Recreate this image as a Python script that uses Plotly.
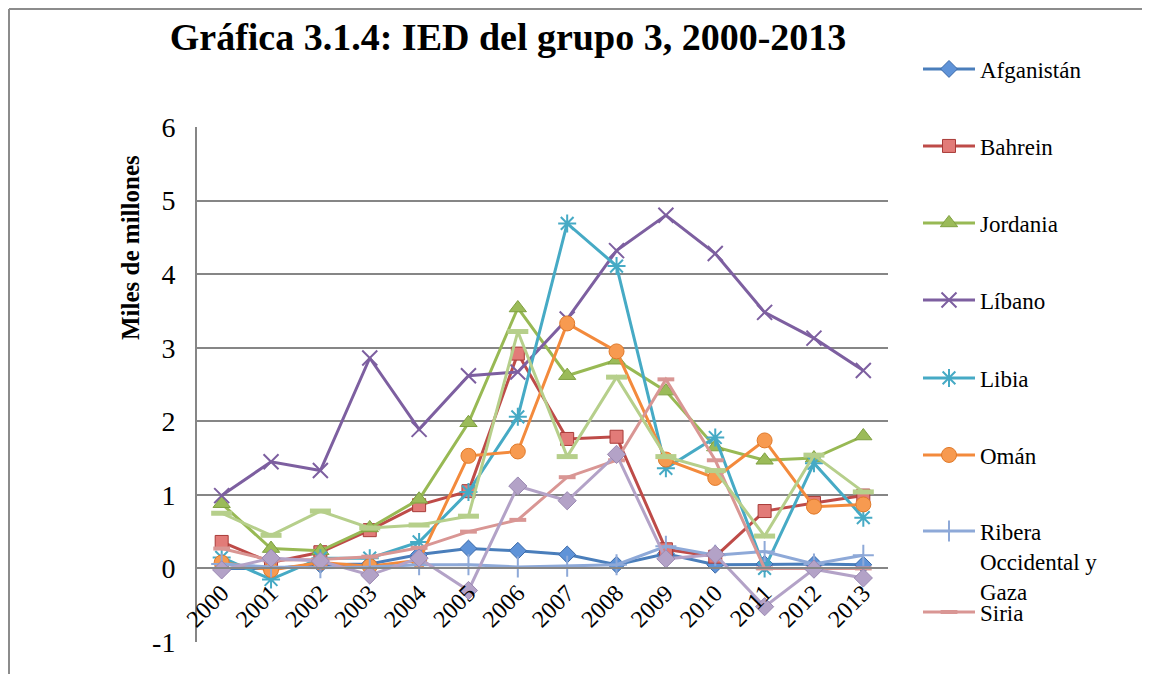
import plotly.graph_objects as go

years = ["2000", "2001", "2002", "2003", "2004", "2005", "2006",
         "2007", "2008", "2009", "2010", "2011", "2012", "2013"]

y_ticks = [-1, 0, 1, 2, 3, 4, 5, 6]
y_tick_labels = ["-1", "0", "1", "2", "3", "4", "5", "6"]

afganistan = [0.00, 0.00, 0.05, 0.06, 0.19, 0.27, 0.24, 0.19, 0.05, 0.20, 0.05, 0.06, 0.06, 0.05]
bahrein    = [0.36, 0.08, 0.22, 0.52, 0.86, 1.05, 2.92, 1.76, 1.79, 0.26, 0.16, 0.78, 0.89, 0.99]
jordania   = [0.88, 0.27, 0.24, 0.55, 0.94, 1.98, 3.54, 2.62, 2.83, 2.41, 1.65, 1.47, 1.50, 1.80]
libano     = [0.99, 1.45, 1.33, 2.86, 1.89, 2.62, 2.67, 3.39, 4.32, 4.80, 4.28, 3.48, 3.13, 2.69]
libia      = [0.15, -0.15, 0.14, 0.14, 0.36, 1.04, 2.06, 4.69, 4.11, 1.36, 1.78, 0.00, 1.43, 0.69]
oman       = [0.08, -0.02, 0.08, 0.03, 0.11, 1.53, 1.59, 3.33, 2.95, 1.48, 1.23, 1.74, 0.84, 0.87]
ribera     = [0.06, 0.02, 0.01, 0.02, 0.05, 0.05, 0.02, 0.03, 0.05, 0.30, 0.18, 0.23, 0.06, 0.18]
siria      = [0.27, 0.11, 0.12, 0.16, 0.28, 0.50, 0.66, 1.24, 1.47, 2.57, 1.47, 0.00, 0.00, 0.00]
tunez      = [0.75, 0.45, 0.78, 0.55, 0.59, 0.71, 3.22, 1.52, 2.60, 1.52, 1.33, 0.44, 1.54, 1.04]
yemen      = [-0.02, 0.14, 0.10, -0.09, 0.14, -0.30, 1.12, 0.92, 1.55, 0.13, 0.19, -0.52, -0.01, -0.13]

title_text = "Gráfica 3.1.4: IED del grupo 3, 2000-2013"
y_title = "Miles de millones"

FONT = "Liberation Serif"

# page offset of the figure inside the html body (default body margin)
OFF = 8
W, H = 1150 - OFF, 674 - OFF
ml = 197 - OFF
mt = 127 - OFF
mr = W - (888 - OFF)
mb = H - (642 - OFF)
pw, ph = W - ml - mr, H - mt - mb


def px_x(px):
    return (px - OFF - ml) / pw


def px_y(py):
    return (H - mb - (py - OFF)) / ph


# name, values, line colour, marker, legend id (None = not in legend), legend centre y (page px)
series = [
    ("Afganistán", afganistan, "#4A7EBB", dict(symbol="diamond", size=13, color="#5F93D8", line=dict(color="#3C6AA8", width=1)), "legend", 69),
    ("Bahrein", bahrein, "#BE4B48", dict(symbol="square", size=13, color="#E27B78", line=dict(color="#A83B38", width=1)), "legend2", 146),
    ("Jordania", jordania, "#98B954", dict(symbol="triangle-up", size=15, color="#9BBB59", line=dict(color="#7FA040", width=1)), "legend3", 223),
    ("Líbano", libano, "#7D5FA0", dict(symbol="x-thin-open", size=15, color="#7D5FA0", line=dict(color="#7D5FA0", width=2)), "legend4", 300),
    ("Libia", libia, "#46AAC5", dict(symbol="asterisk-open", size=15, color="#46AAC5", line=dict(color="#46AAC5", width=2)), "legend5", 378),
    ("Omán", oman, "#F38A3C", dict(symbol="circle", size=15, color="#F79A50", line=dict(color="#E07A2A", width=1)), "legend6", 455),
    ("Ribera<br>Occidental y<br>Gaza", ribera, "#8EA9D8", dict(symbol="cross-thin-open", size=15, color="#8EA9D8", line=dict(color="#8EA9D8", width=2)), "legend7", 561),
    ("Siria", siria, "#D99694", dict(symbol="line-ew-open", size=12, color="#D99694", line=dict(color="#D99694", width=4)), "legend8", 612),
    ("Túnez", tunez, "#B6CF8B", dict(symbol="line-ew-open", size=15, color="#B6CF8B", line=dict(color="#B6CF8B", width=5)), None, None),
    ("Yemen", yemen, "#B3A2C7", dict(symbol="diamond", size=14, color="#B3A2C7", line=dict(color="#9A88B2", width=1)), None, None),
]

fig = go.Figure()
legend_layouts = {}
for name, vals, col, mk, lg, ly in series:
    fig.add_trace(go.Scatter(
        x=years, y=vals, name=name, mode="lines+markers",
        line=dict(color=col, width=3), marker=mk,
        showlegend=lg is not None, legend=lg if lg else "legend",
    ))
    if lg:
        legend_layouts[lg] = dict(
            x=px_x(918), y=px_y(ly), xanchor="left", yanchor="middle",
            font=dict(size=23, family=FONT), bgcolor="rgba(0,0,0,0)",
            itemwidth=52, valign="top" if "<br>" in name else "middle",
            maxheight=800,
        )

fig.update_layout(
    width=W, height=H,
    margin=dict(l=ml, r=mr, t=mt, b=mb, autoexpand=False),
    paper_bgcolor="white", plot_bgcolor="white",
    font=dict(family=FONT, color="black"),
    title=dict(text=f"<b>{title_text}</b>", font=dict(size=38, family=FONT),
               x=px_x(508), xref="paper", xanchor="center",
               y=1 - (37 - OFF) / H, yanchor="middle"),
    xaxis=dict(type="category", categoryorder="array", categoryarray=years,
               range=[-0.5, 13.5], anchor="free", position=1 / 7,
               showline=True, linecolor="#868686", linewidth=2,
               showgrid=False, ticks="", tickangle=-45,
               tickfont=dict(size=24, family=FONT), zeroline=False),
    yaxis=dict(range=[-1, 6], tickmode="array", tickvals=y_ticks, ticktext=y_tick_labels,
               showgrid=True, gridcolor="#868686",
               gridwidth=2, showline=True, linecolor="#868686", linewidth=2,
               zeroline=False, ticks="", ticklabelstandoff=14,
               tickfont=dict(size=28, family=FONT)),
    annotations=[dict(text=f"<b>{y_title}</b>", xref="paper", yref="paper",
                      x=px_x(130), y=px_y(248), textangle=-90, showarrow=False,
                      font=dict(size=25, family=FONT), xanchor="center", yanchor="middle")],
    shapes=[
        dict(type="line", xref="paper", yref="paper",
             x0=px_x(9), x1=px_x(1160), y0=px_y(9), y1=px_y(9),
             line=dict(color="#8C8C8C", width=2), layer="below"),
        dict(type="line", xref="paper", yref="paper",
             x0=px_x(9), x1=px_x(9), y0=px_y(9), y1=px_y(690),
             line=dict(color="#8C8C8C", width=2), layer="below"),
    ],
    **legend_layouts,
)

fig.write_html("out.html")
